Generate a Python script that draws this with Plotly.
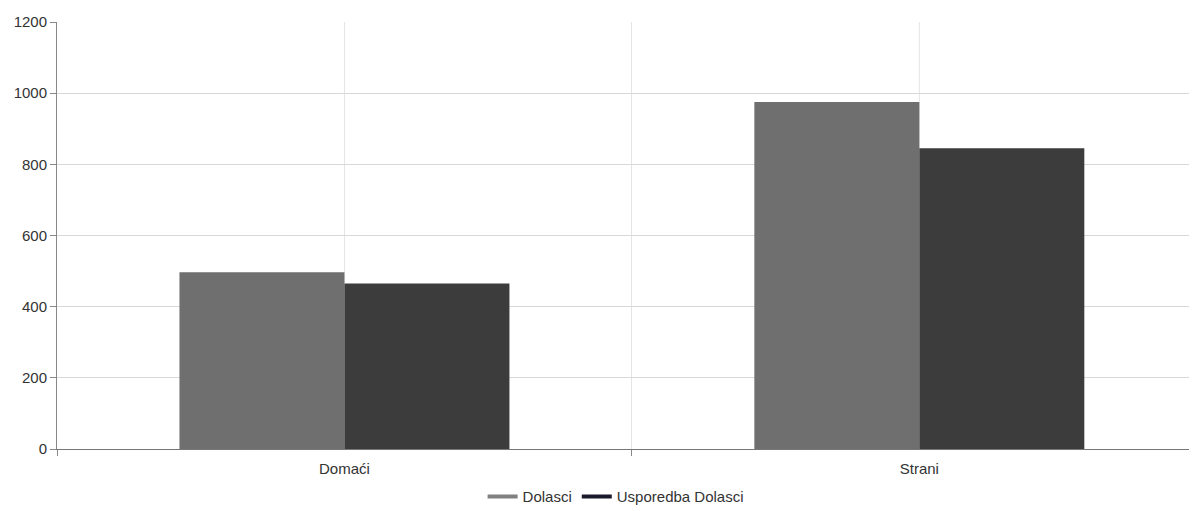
import plotly.graph_objects as go

categories = ["Domaći", "Strani"]
dolasci = [497, 975]
usporedba = [465, 845]
series_names = ["Dolasci", "Usporedba Dolasci"]
y_ticks = [0, 200, 400, 600, 800, 1000, 1200]

col_a = "#6f6f6f"
col_b = "#3c3c3c"

fig = go.Figure()
fig.add_trace(go.Bar(x=categories, y=dolasci, name=series_names[0],
                     marker=dict(color=col_a, line=dict(width=0)), showlegend=False))
fig.add_trace(go.Bar(x=categories, y=usporedba, name=series_names[1],
                     marker=dict(color=col_b, line=dict(width=0)), showlegend=False))
# legend entries drawn as short lines
fig.add_trace(go.Scatter(x=[None], y=[None], mode="lines", name=series_names[0],
                         line=dict(color="#808080", width=4)))
fig.add_trace(go.Scatter(x=[None], y=[None], mode="lines", name=series_names[1],
                         line=dict(color="#1a1a2a", width=4)))

# center gridlines for categories
for c in categories:
    fig.add_shape(type="line", xref="x", yref="paper", x0=c, x1=c, y0=0, y1=1,
                  line=dict(color="#e4e4e4", width=1), layer="below")

fig.update_layout(
    width=1189, height=503,
    margin=dict(l=49, r=0, t=14, b=62, autoexpand=False),
    paper_bgcolor="white", plot_bgcolor="white",
    barmode="group", bargap=0.426, bargroupgap=0,
    font=dict(family="Liberation Sans, Arial, sans-serif", size=15, color="#333333"),
    legend=dict(orientation="h", x=0.49, xanchor="center", y=-0.112, yanchor="middle",
                font=dict(size=15, color="#333333"), itemwidth=30, traceorder="normal"),
    xaxis=dict(type="category", range=[-0.5, 1.483], tickson="boundaries",
               ticks="outside", ticklen=6, tickcolor="#888888", automargin=False,
               ticklabelstandoff=6,
               showgrid=True, gridcolor="#e4e4e4",
               showline=True, linecolor="#777777", linewidth=1,
               tickfont=dict(size=15, color="#333333"), zeroline=False),
    yaxis=dict(range=[0, 1200], tickvals=y_ticks, ticks="outside", ticklen=6,
               tickcolor="#888888", showline=True, linecolor="#888888",
               gridcolor="#d8d8d8", zeroline=False, automargin=False,
               tickfont=dict(size=15, color="#333333")),
)

fig.write_html("out.html")
